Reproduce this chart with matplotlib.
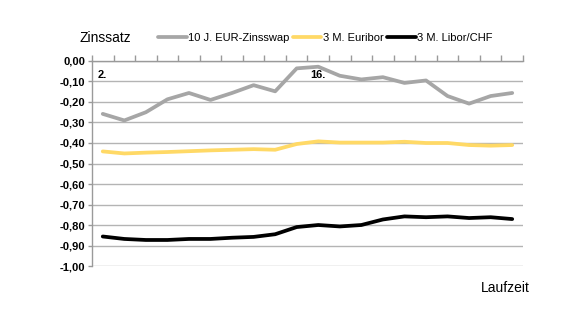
import numpy as np
import matplotlib.pyplot as plt

plt.rcParams['font.family'] = ['Liberation Sans', 'DejaVu Sans']

# 20 Handelstage
swap_10j = [-0.258, -0.29, -0.25, -0.187, -0.156, -0.19, -0.156, -0.118, -0.148, -0.036,
            -0.028, -0.072, -0.09, -0.079, -0.107, -0.095, -0.171, -0.208, -0.171, -0.156]
euribor_3m = [-0.441, -0.451, -0.447, -0.444, -0.44, -0.436, -0.433, -0.43, -0.433, -0.405,
              -0.392, -0.398, -0.398, -0.398, -0.394, -0.40, -0.40, -0.41, -0.413, -0.41]
libor_chf = [-0.856, -0.868, -0.873, -0.873, -0.868, -0.868, -0.862, -0.858, -0.845, -0.81,
             -0.80, -0.807, -0.80, -0.773, -0.758, -0.762, -0.758, -0.766, -0.762, -0.771]
day_labels = {0: '2.', 10: '16.'}
yticks = np.round(np.arange(0, -1.01, -0.1), 2)

fig = plt.figure(figsize=(5.8, 3.27), dpi=100)
ax = fig.add_axes([0.1586, 0.1865, 0.7431, 0.627])

x = np.arange(len(swap_10j))
ax.plot(x, swap_10j, color='#a6a6a6', lw=2.7, label='10 J. EUR-Zinsswap', solid_capstyle='round')
ax.plot(x, euribor_3m, color='#ffd966', lw=2.7, label='3 M. Euribor', solid_capstyle='round')
ax.plot(x, libor_chf, color='#000000', lw=2.7, label='3 M. Libor/CHF', solid_capstyle='round')

for i, t in day_labels.items():
    ax.text(i, -0.07, t, ha='center', va='center', fontsize=8, fontweight='bold')

ax.set_xlim(-0.5, len(x) - 0.5)
ax.set_ylim(-1.0, 0.0)
ax.set_yticks(yticks)
ax.set_yticklabels([f'{v:.2f}'.replace('.', ',').replace('-0,00', '0,00') for v in yticks],
                   fontsize=8, fontweight='bold')
ax.yaxis.grid(True, color='#b4b4b4', lw=1)
ax.set_axisbelow(True)

ax.xaxis.tick_top()
ax.set_xticks(np.arange(-0.5, len(x), 1.0))
ax.set_xticklabels([])
ax.tick_params(axis='x', direction='out', length=4, color='#9a9a9a', width=1)
ax.tick_params(axis='y', direction='out', length=3, color='#9a9a9a', width=1, pad=2)

for s in ['right', 'bottom']:
    ax.spines[s].set_visible(False)
for s in ['left', 'top']:
    ax.spines[s].set_color('#9a9a9a')
    ax.spines[s].set_linewidth(1)

fig.text(80 / 580, 1 - 38 / 327, 'Zinssatz', fontsize=10, va='center', ha='left')
fig.text(530 / 580, 1 - 288 / 327, 'Laufzeit', fontsize=10, va='center', ha='right')

fig.legend(loc='center', bbox_to_anchor=(325 / 580, 1 - 38 / 327), ncol=3, frameon=False,
           fontsize=8, handlelength=2.6, handletextpad=0.1, columnspacing=0.3)

fig.savefig('out.png', dpi=100)
